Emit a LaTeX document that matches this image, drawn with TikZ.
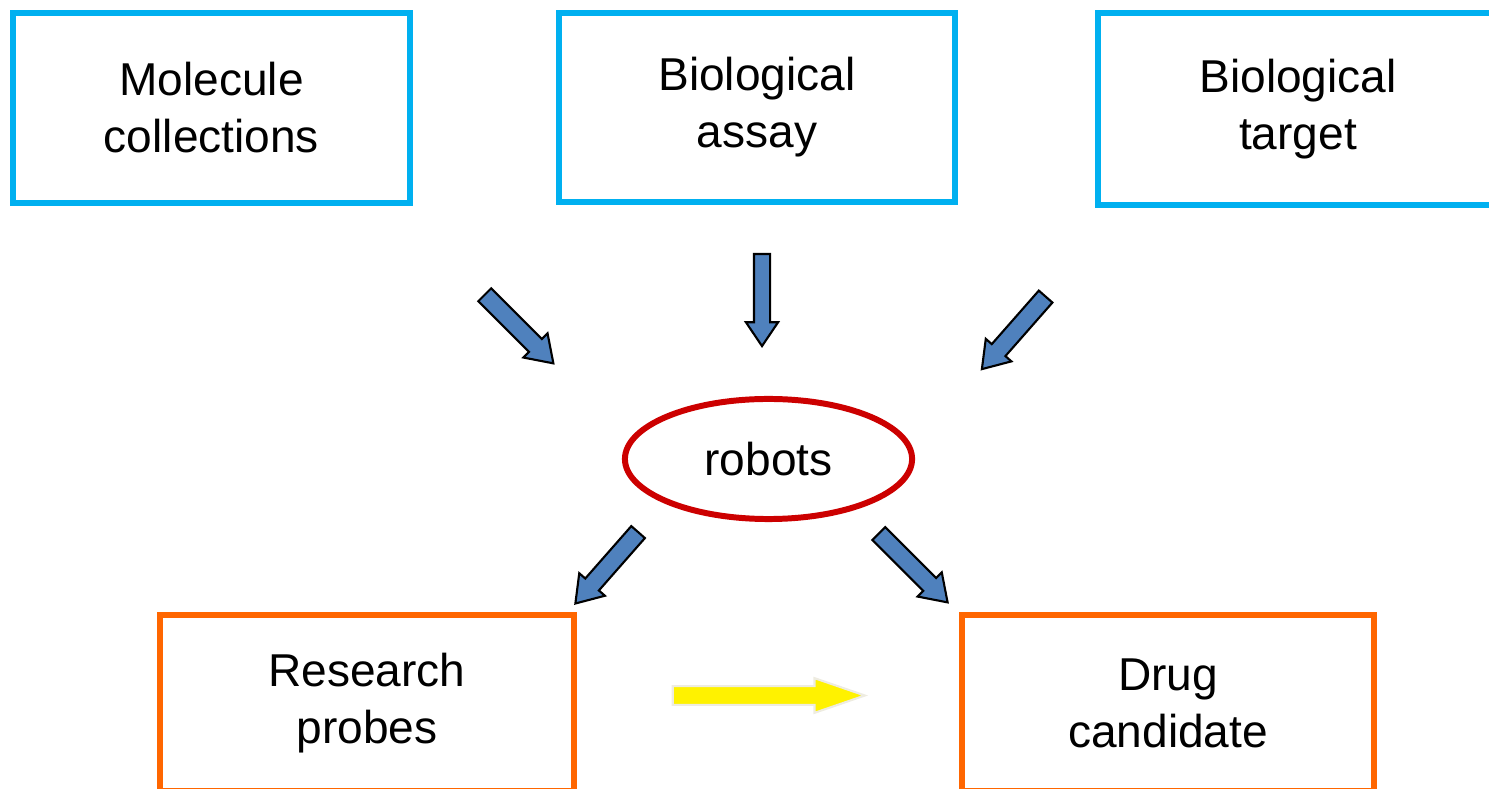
\documentclass[tikz,border=0pt]{standalone}
\usepackage{fontspec}
\setmainfont{Liberation Sans}
\usetikzlibrary{shapes.geometric,shapes.arrows}

\definecolor{boxblue}{HTML}{00B0F0}
\definecolor{boxorange}{HTML}{FF6600}
\definecolor{robotred}{HTML}{CC0000}
\definecolor{arrowblue}{HTML}{4F81BD}
\definecolor{arrowrim}{HTML}{EEECE1}

\tikzset{
  txt/.style={font=\fontsize{13.1pt}{16.2pt}\selectfont, align=center},
  sourcebox/.style={txt, draw=boxblue, line width=1.7pt, inner sep=0pt},
  resultbox/.style={txt, draw=boxorange, line width=1.7pt, inner sep=0pt},
  robotell/.style={txt, ellipse, draw=robotred, line width=1.7pt,
    minimum width=2.87cm, minimum height=1.2cm},
  bluearrow/.style={single arrow, draw=black, fill=arrowblue, line width=0.6pt,
    inner xsep=0pt, inner ysep=0.08cm, single arrow head extend=0.08cm,
    single arrow tip angle=68, anchor=tail},
  yellowarrow/.style={single arrow, draw=arrowrim, fill=yellow, line width=0.6pt,
    inner xsep=0pt, inner ysep=0.083cm, single arrow head extend=0.08cm,
    single arrow tip angle=38, anchor=tail}
}

\begin{document}
\begin{tikzpicture}[x=0.01cm, y=-0.01cm]

\useasboundingbox (0,0) rectangle (1489,789);

% Cadres bleus
\node[sourcebox, minimum width=3.97cm, minimum height=1.90cm] (molecules) at (211.5,108) {Molecule\\collections};
\node[sourcebox, minimum width=3.96cm, minimum height=1.89cm] (assay) at (757,107.5) {Biological\\assay};
\node[sourcebox, minimum width=4.00cm, minimum height=1.92cm] (target) at (1298,109) {Biological\\target};

% Ellipse rouge
\node[robotell] (robots) at (768.5,459) {robots};

% Cadres orange
\node[resultbox, minimum width=4.14cm, minimum height=1.76cm] (probes) at (367,703) {Research\\probes};
\node[resultbox, minimum width=4.12cm, minimum height=1.76cm] (drug) at (1168,703) {Drug\\candidate};

% Fleches bleues
\node[bluearrow, rotate=-45, minimum height=0.97cm] (arrmol) at (484,294) {};
\node[bluearrow, rotate=-90, minimum height=0.92cm, inner ysep=0.07cm] (arrassay) at (762,253) {};
\node[bluearrow, rotate=228.7, minimum height=0.965cm] (arrtarget) at (1046.3,295.8) {};
\node[bluearrow, rotate=228.7, minimum height=0.95cm] (arrprobes) at (638.8,531.3) {};
\node[bluearrow, rotate=-45, minimum height=0.973cm] (arrdrug) at (878,532.8) {};

% Fleche jaune
\node[yellowarrow, minimum height=1.92cm] (arrnext) at (671.7,695.5) {};

\end{tikzpicture}
\end{document}
